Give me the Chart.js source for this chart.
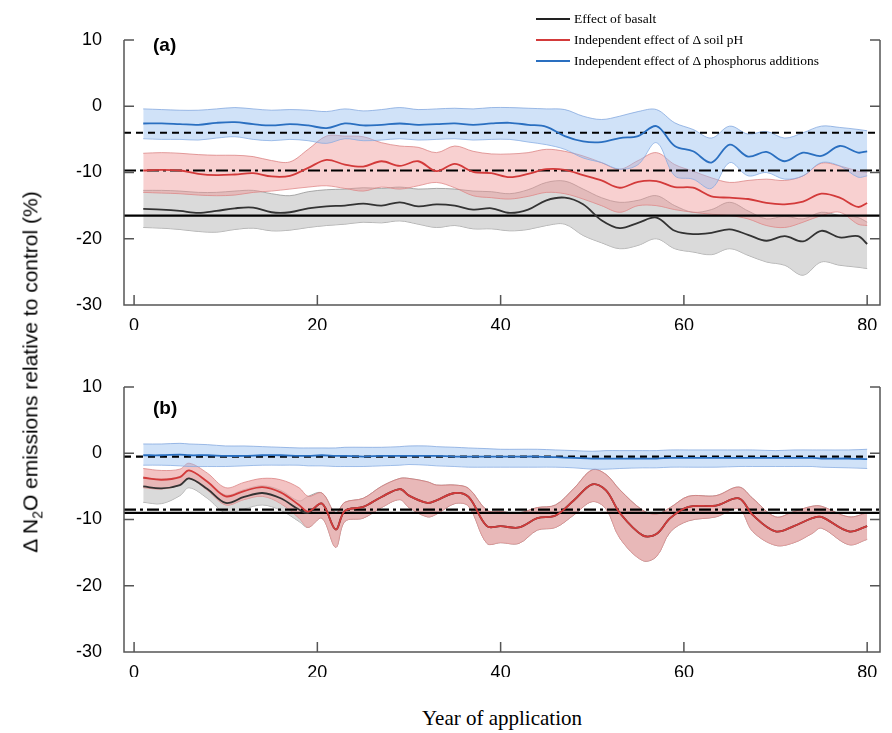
<!DOCTYPE html>
<html lang="en">
<head>
  <meta charset="UTF-8" />
  <title>N2O emissions relative to control</title>
  <style>
    body { margin: 0; background: #fff; width: 892px; height: 733px; position: relative; overflow: hidden; font-family: Arial, "Liberation Sans", sans-serif; }
    .panel { position: absolute; left: 0; width: 892px; height: 330px; }
    #wrapA { top: 0; }
    #wrapB { top: 347px; }
    .tag { position: absolute; font-weight: bold; font-size: 19px; }
    #ytitle { position: absolute; left: 32px; top: 372px; transform: translate(-50%, -50%) rotate(-90deg); white-space: nowrap; font-size: 21px; }
    #xtitle { position: absolute; left: 502px; top: 706px; transform: translateX(-50%); font-family: "Liberation Serif", "DejaVu Serif", serif; font-size: 21px; }
    #legend { position: absolute; left: 536px; top: 8px; font-family: "Liberation Serif", "DejaVu Serif", serif; font-size: 13.5px; }
    #legend div { height: 21px; line-height: 21px; display: flex; align-items: center; }
    #legend span.sw { display: inline-block; width: 34px; height: 2px; margin-right: 4px; }
  </style>
</head>
<body>
  <div class="panel" id="wrapA"><canvas id="chartA" width="892" height="330"></canvas></div>
  <div class="panel" id="wrapB"><canvas id="chartB" width="892" height="330"></canvas></div>
  <div class="tag" style="left:153px;top:34px;">(a)</div>
  <div class="tag" style="left:153px;top:397px;">(b)</div>
  <div id="ytitle">Δ N<sub style="font-size:14px;">2</sub>O emissions relative to control (%)</div>
  <div id="xtitle">Year of application</div>
  <div id="legend">
    <div><span class="sw" style="background:#222"></span>Effect of basalt</div>
    <div><span class="sw" style="background:#d33a3a"></span>Independent effect of Δ soil pH</div>
    <div><span class="sw" style="background:#2a6fc0"></span>Independent effect of Δ phosphorus additions</div>
  </div>

  <script src="https://cdn.jsdelivr.net/npm/chart.js"></script>
  <script>
    const xTicks = [0, 20, 40, 60, 80];
    const yTicks = [-30, -20, -10, 0, 10];

    // panel (a)
    const yearsA = [1,3,5,7,9,11,13,15,17,19,21,23,25,27,29,31,33,35,37,39,41,43,45,47,49,51,53,55,57,59,61,63,65,67,69,71,73,75,77,79,80];
    const basaltA = [-15.5,-15.6,-15.8,-16.1,-15.8,-15.4,-15.3,-16.0,-16.0,-15.4,-15.1,-15.0,-14.7,-15.0,-14.5,-15.1,-14.8,-15.0,-15.6,-15.4,-16.1,-15.6,-14.2,-13.8,-14.8,-17.2,-18.4,-17.6,-16.8,-18.8,-19.3,-19.1,-18.6,-19.4,-20.3,-19.6,-20.4,-18.8,-19.8,-19.6,-20.8];
    const basaltHiA = [-12.7,-12.7,-12.8,-13.0,-13.0,-12.8,-12.7,-13.2,-13.5,-12.9,-12.6,-12.5,-12.3,-12.4,-12.2,-12.5,-12.4,-12.5,-12.8,-12.9,-13.2,-12.6,-11.5,-11.3,-12.5,-13.8,-14.5,-14.2,-13.5,-15.0,-16.0,-15.6,-14.5,-15.8,-17.0,-16.6,-17.0,-16.0,-16.5,-16.8,-17.5];
    const basaltLoA = [-18.3,-18.4,-18.6,-18.9,-19.0,-18.6,-18.4,-18.8,-18.7,-18.3,-18.0,-17.8,-17.5,-17.6,-17.3,-17.8,-18.3,-18.0,-18.5,-18.5,-18.8,-18.6,-18.0,-17.8,-19.5,-20.6,-21.5,-21.0,-20.0,-21.5,-22.0,-22.4,-21.5,-22.5,-23.5,-24.0,-25.5,-23.5,-24.0,-24.3,-24.5];
    const phA = [-9.7,-9.6,-9.7,-10.2,-10.4,-10.3,-10.1,-10.6,-10.5,-9.3,-8.1,-8.8,-9.1,-8.3,-9.0,-8.3,-9.8,-8.7,-9.9,-10.1,-10.7,-10.2,-9.5,-9.6,-10.4,-11.2,-12.3,-11.4,-11.3,-12.2,-12.3,-13.6,-13.8,-14.0,-14.6,-14.8,-14.4,-13.2,-13.8,-15.2,-14.6];
    const phHiA = [-7.1,-7.0,-7.1,-7.3,-7.4,-7.4,-7.6,-8.2,-8.4,-6.5,-4.5,-4.5,-4.6,-5.5,-6.0,-6.2,-7.0,-6.0,-6.8,-7.2,-7.2,-7.0,-6.5,-6.8,-7.5,-8.5,-9.5,-8.2,-7.0,-8.8,-9.8,-10.8,-11.5,-11.2,-11.0,-11.2,-10.5,-8.6,-9.0,-9.8,-10.0];
    const phLoA = [-13.0,-13.1,-13.2,-13.4,-13.5,-13.4,-13.0,-12.8,-12.5,-12.2,-12.0,-12.4,-12.8,-12.2,-12.5,-12.0,-11.5,-12.3,-13.5,-13.8,-14.0,-13.6,-13.0,-13.2,-14.0,-15.0,-16.0,-15.0,-15.0,-15.6,-16.0,-16.3,-16.5,-17.0,-18.0,-18.3,-17.5,-16.5,-16.0,-17.8,-18.0];
    const phosA = [-2.6,-2.6,-2.7,-2.8,-2.5,-2.4,-2.7,-2.9,-2.7,-2.9,-3.3,-2.6,-2.9,-2.8,-2.6,-2.8,-2.7,-2.6,-2.8,-2.6,-2.5,-2.8,-3.1,-4.5,-5.3,-5.4,-4.8,-4.5,-3.0,-6.0,-6.8,-8.5,-5.8,-7.6,-6.9,-8.3,-7.0,-7.5,-6.0,-7.0,-6.8];
    const phosHiA = [-0.4,-0.5,-0.6,-0.6,-0.4,-0.2,-0.4,-0.6,-0.5,-0.6,-0.8,-0.4,-0.7,-0.5,-0.2,-0.5,-0.4,-0.3,-0.4,-0.2,-0.2,-0.3,-0.4,-0.5,-1.5,-2.0,-1.5,-0.8,-0.5,-2.5,-3.5,-4.8,-3.0,-4.2,-3.8,-4.8,-4.0,-3.0,-3.2,-3.5,-3.7];
    const phosLoA = [-4.9,-5.0,-5.0,-5.1,-4.8,-4.6,-5.0,-5.2,-5.0,-5.2,-5.6,-4.9,-5.2,-5.1,-4.9,-5.1,-5.0,-4.9,-5.1,-5.0,-5.0,-5.4,-5.8,-6.5,-7.8,-8.5,-9.5,-8.8,-5.5,-10.5,-11.0,-12.4,-8.5,-10.5,-10.0,-11.0,-10.5,-8.5,-9.0,-10.7,-10.5];
    const refA = [-4.0, -9.7, -16.5]; // dashed: phosphorus, dash-dot: soil pH, solid: basalt

    // panel (b)
    const yearsB = [1,3,5,6,8,10,12,14,16,18,19,20.5,22,23,25,27,29,30,32,33,35,36.5,38.5,40,42,44,46,48,50,51.5,53,55.5,57,58.5,60.5,63.5,66,67.5,70,72,74,75,78,80];
    const basaltB = [-5.0,-5.3,-4.8,-3.8,-5.4,-7.5,-6.6,-6.0,-6.8,-8.5,-9.0,-7.6,-11.5,-8.7,-8.1,-6.6,-5.4,-6.4,-7.5,-7.1,-6.0,-6.6,-11.0,-11.0,-11.2,-9.8,-9.4,-7.1,-4.7,-5.6,-9.0,-12.4,-12.2,-9.8,-8.1,-7.9,-6.8,-9.3,-11.8,-11.0,-9.8,-9.6,-11.8,-11.0];
    const basaltHiB = [-3.6,-3.9,-3.5,-2.6,-4.2,-6.3,-5.5,-4.9,-5.6,-7.2,-6.5,-6.0,-9.0,-7.4,-6.8,-5.0,-3.8,-3.8,-4.3,-4.8,-4.8,-5.3,-8.6,-8.8,-9.0,-8.2,-7.8,-5.3,-2.5,-3.2,-5.5,-8.6,-9.2,-8.2,-6.5,-6.4,-5.1,-6.8,-9.6,-8.8,-8.0,-8.0,-9.6,-9.0];
    const basaltLoB = [-7.4,-7.6,-6.4,-5.2,-6.8,-9.0,-8.4,-7.8,-8.6,-10.3,-11.2,-9.8,-14.2,-10.3,-9.8,-8.2,-7.0,-8.2,-9.6,-9.2,-7.6,-8.0,-13.6,-13.5,-13.6,-11.6,-11.2,-9.3,-7.3,-8.4,-12.8,-16.2,-15.6,-11.9,-10.2,-9.6,-8.4,-11.8,-13.9,-13.5,-12.1,-11.3,-13.8,-13.0];
    const phB = [-3.7,-4.0,-3.6,-2.6,-4.3,-6.5,-5.7,-5.1,-5.9,-7.8,-8.8,-7.6,-11.5,-8.7,-8.1,-6.6,-5.4,-6.4,-7.5,-7.1,-6.0,-6.6,-11.0,-11.0,-11.2,-9.8,-9.4,-7.1,-4.7,-5.6,-9.0,-12.4,-12.2,-9.8,-8.1,-7.9,-6.8,-9.3,-11.8,-11.0,-9.8,-9.6,-11.8,-11.0];
    const phHiB = [-2.3,-2.6,-2.4,-1.5,-3.0,-5.2,-4.4,-3.8,-4.0,-5.2,-6.5,-6.0,-9.0,-7.4,-6.8,-5.0,-3.8,-3.8,-4.3,-4.8,-4.8,-5.3,-8.6,-8.8,-9.0,-8.2,-7.8,-5.3,-2.5,-3.2,-5.5,-8.6,-9.2,-8.2,-6.5,-6.4,-5.1,-6.8,-9.6,-8.8,-8.0,-8.0,-9.6,-9.0];
    const phLoB = [-5.2,-5.4,-4.8,-3.8,-5.6,-7.8,-7.0,-6.5,-7.6,-9.8,-11.2,-9.8,-14.2,-10.3,-9.8,-8.2,-7.0,-8.2,-9.6,-9.2,-7.6,-8.0,-13.6,-13.5,-13.6,-11.6,-11.2,-9.3,-7.3,-8.4,-12.8,-16.2,-15.6,-11.9,-10.2,-9.6,-8.4,-11.8,-13.9,-13.5,-12.1,-11.3,-13.8,-13.0];
    const phosB = [-0.3,-0.3,-0.2,-0.3,-0.3,-0.4,-0.4,-0.3,-0.3,-0.4,-0.4,-0.3,-0.4,-0.4,-0.5,-0.4,-0.4,-0.4,-0.4,-0.4,-0.5,-0.5,-0.5,-0.5,-0.5,-0.5,-0.6,-0.7,-0.8,-0.8,-0.8,-0.8,-0.8,-0.7,-0.7,-0.7,-0.7,-0.7,-0.7,-0.7,-0.7,-0.8,-0.8,-0.9];
    const phosHiB = [1.4,1.4,1.5,1.4,1.3,1.1,1.1,1.0,0.9,0.8,0.8,0.8,0.8,0.9,0.9,0.9,1.0,1.1,1.1,1.0,0.9,0.8,0.7,0.6,0.6,0.6,0.5,0.4,0.3,0.4,0.4,0.4,0.4,0.5,0.5,0.5,0.5,0.5,0.4,0.5,0.5,0.5,0.5,0.6];
    const phosLoB = [-1.8,-1.8,-1.9,-2.0,-2.0,-2.0,-1.9,-1.8,-1.8,-1.8,-1.9,-1.9,-2.0,-2.0,-2.0,-1.9,-1.8,-1.7,-1.8,-1.9,-2.0,-2.1,-2.1,-2.1,-2.1,-2.1,-2.1,-2.2,-2.4,-2.4,-2.3,-2.2,-2.2,-2.1,-2.1,-2.1,-2.0,-2.0,-2.0,-2.0,-2.0,-2.1,-2.2,-2.3];
    const refB = [-0.5, -8.5, -9.0];

    const X_MIN = -1.1, X_MAX = 81.4;

    const pts = (xs, ys) => xs.map((x, i) => ({ x: x, y: ys[i] }));
    const flat = y => [{ x: X_MIN, y: y }, { x: X_MAX, y: y }];

    // lower "order" is drawn on top
    function band(xs, hi, lo, edge, fillCol, order) {
      return [
        { data: pts(xs, hi), borderColor: edge, borderWidth: 1, backgroundColor: fillCol, fill: '+1', pointRadius: 0, tension: 0.35, order: order },
        { data: pts(xs, lo), borderColor: edge, borderWidth: 1, backgroundColor: fillCol, fill: false, pointRadius: 0, tension: 0.35, order: order }
      ];
    }
    function line(xs, ys, col, order) {
      return { data: pts(xs, ys), borderColor: col, borderWidth: 1.8, fill: false, pointRadius: 0, tension: 0.35, order: order };
    }
    function ref(y, dash) {
      return { data: flat(y), borderColor: '#000', borderWidth: 2.2, borderDash: dash, fill: false, pointRadius: 0, order: 4 };
    }

    // inward tick marks and frame lines
    const frame = {
      id: 'frame',
      afterDraw(chart) {
        const { ctx, chartArea: a, scales: { x, y } } = chart;
        ctx.save();
        ctx.strokeStyle = '#555';
        ctx.lineWidth = 1.5;
        ctx.beginPath();
        ctx.moveTo(a.left, a.top); ctx.lineTo(a.left, a.bottom); ctx.lineTo(a.right, a.bottom); ctx.lineTo(a.right, a.top);
        xTicks.forEach(v => { const px = x.getPixelForValue(v); ctx.moveTo(px, a.bottom); ctx.lineTo(px, a.bottom - 10); });
        yTicks.forEach(v => {
          const py = y.getPixelForValue(v);
          ctx.moveTo(a.left, py); ctx.lineTo(a.left + 10, py);
          ctx.moveTo(a.right, py); ctx.lineTo(a.right - 10, py);
        });
        ctx.stroke();
        ctx.restore();
      }
    };

    function makeChart(id, xs, sets, refs, pinkFill) {
      const datasets = [
        ...band(xs, sets.basaltHi, sets.basaltLo, 'rgba(150,150,150,0.8)', 'rgba(205,205,205,0.75)', 7),
        ...band(xs, sets.phHi, sets.phLo, 'rgba(215,120,120,0.7)', pinkFill, 6),
        ...band(xs, sets.phosHi, sets.phosLo, 'rgba(120,160,220,0.7)', 'rgba(150,190,240,0.45)', 5),
        ref(refs[0], [7, 5]),
        ref(refs[1], [12, 4, 3, 4]),
        ref(refs[2], []),
        line(xs, sets.basalt, '#333', 3),
        line(xs, sets.ph, '#d33a3a', 2),
        line(xs, sets.phos, '#2a6fc0', 1)
      ];
      return new Chart(document.getElementById(id), {
        type: 'line',
        data: { datasets: datasets },
        plugins: [frame],
        options: {
          responsive: false,
          animation: false,
          layout: { padding: { top: 40, right: 12, left: 0, bottom: 0 } },
          plugins: { legend: { display: false }, tooltip: { enabled: false } },
          scales: {
            x: {
              type: 'linear', min: X_MIN, max: X_MAX,
              afterBuildTicks: s => { s.ticks = xTicks.map(v => ({ value: v })); },
              afterFit: s => { s.height = 25; },
              grid: { display: false }, border: { display: false },
              ticks: { color: '#000', font: { size: 18, family: 'Arial' }, padding: 2, maxRotation: 0 }
            },
            y: {
              min: -30, max: 10,
              afterBuildTicks: s => { s.ticks = yTicks.map(v => ({ value: v })); },
              afterFit: s => { s.width = 124; },
              grid: { display: false }, border: { display: false },
              ticks: { color: '#000', font: { size: 18, family: 'Arial' }, padding: 14 }
            }
          }
        }
      });
    }

    makeChart('chartA', yearsA, {
      basalt: basaltA, basaltHi: basaltHiA, basaltLo: basaltLoA,
      ph: phA, phHi: phHiA, phLo: phLoA,
      phos: phosA, phosHi: phosHiA, phosLo: phosLoA
    }, refA, 'rgba(240,150,150,0.45)');

    makeChart('chartB', yearsB, {
      basalt: basaltB, basaltHi: basaltHiB, basaltLo: basaltLoB,
      ph: phB, phHi: phHiB, phLo: phLoB,
      phos: phosB, phosHi: phosHiB, phosLo: phosLoB
    }, refB, 'rgba(238,170,170,0.7)');
  </script>
</body>
</html>
